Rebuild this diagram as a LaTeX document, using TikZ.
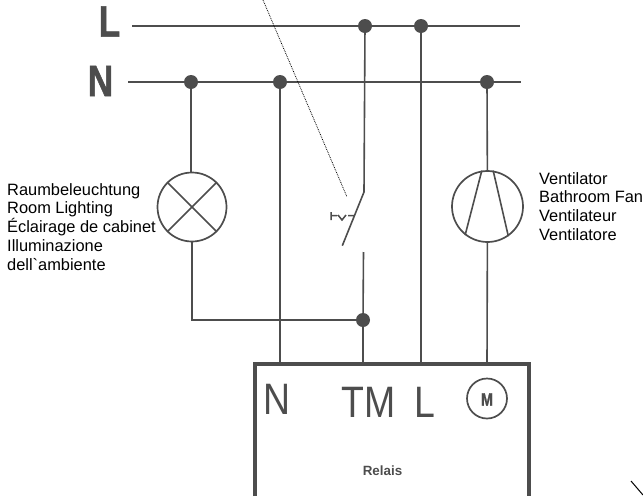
\documentclass[tikz,border=0pt]{standalone}
\usepackage{fontspec}
\setmainfont{Liberation Sans}
\newfontfamily\rawfont{Liberation Sans}
\newfontfamily\heavyfont{Liberation Sans}[BoldFeatures={FakeBold=1.5}]
\usetikzlibrary{positioning}
\definecolor{wiregray}{RGB}{77,77,77}

\tikzset{
    wire/.style={wiregray, line width=1.6pt},
    junction/.style={circle, fill=wiregray, inner sep=0pt, minimum size=14pt},
    load/.style={circle, draw=wiregray, line width=1.7pt, inner sep=0pt},
    caption/.style={align=left, anchor=north west, inner sep=0pt, font=\fontsize{16.4}{18.8}\selectfont, text=black},
    terminal/.style={wiregray, inner sep=0pt, xscale=0.85, transform shape, font=\fontsize{44}{44}\selectfont},
    mainslabel/.style={wiregray, inner sep=0pt, xscale=0.8, transform shape, font=\fontsize{44}{44}\selectfont\heavyfont\bfseries},
}

\begin{document}
\begin{tikzpicture}[x=1pt, y=-1pt]
    \useasboundingbox (0,0) rectangle (643,496);

    % Supply lines
    \node[mainslabel] (lbl) at (109.5,21.5) {L};
    \node[mainslabel] (nbl) at (100.5,81) {N};
    \coordinate (lstart) at (132,26);
    \coordinate (lend) at (520,26);
    \coordinate (nstart) at (128,82);
    \coordinate (nend) at (521,82);

    % Junctions
    \node[junction] (j1) at (365,26) {};
    \node[junction] (j2) at (421,26) {};
    \node[junction] (j3) at (191,82) {};
    \node[junction] (j4) at (280,82) {};
    \node[junction] (j5) at (487,82) {};
    \node[junction] (j6) at (363,320) {};
    \draw[wire] (lstart) -- (lend);
    \draw[wire] (nstart) -- (nend);

    % Loads
    \node[load, minimum size=69pt] (lamp) at (192,207) {};
    \node[load, minimum size=71pt] (fan) at (487.5,206.5) {};
    \draw[wire] (lamp.north west) -- (lamp.south east);
    \draw[wire] (lamp.north east) -- (lamp.south west);
    \draw[wire] (fan.99) -- (fan.232);
    \draw[wire] (fan.81) -- (fan.305);

    % Relay box
    \coordinate (boxnw) at (255,364);
    \coordinate (boxne) at (529,364);
    \coordinate (boxsw) at (255,496);
    \coordinate (boxse) at (529,496);
    \draw[wiregray, line width=3.6pt] (boxsw) -- (boxnw) -- (boxne) -- (boxse);
    \node[terminal] (tn) at (277,399) {N};
    \node[terminal] (ttm) at (368.5,402.5) {TM};
    \node[terminal] (tl) at (425,402.5) {L};
    \node[load, minimum size=40pt] (motor) at (487,398.5) {};
    \node[wiregray, inner sep=0pt, xscale=0.8, transform shape, font=\fontsize{18}{18}\selectfont\heavyfont\bfseries] (mlbl) at (487,399.5) {M};
    \node[wiregray, inner sep=0pt, font=\fontsize{13.4}{13.4}\selectfont\bfseries] (relais) at (382.5,470.5) {Relais};
    \coordinate (nin) at (280,364);
    \coordinate (tmin) at (363,364);
    \coordinate (lin) at (421,364);
    \coordinate (min) at (487,364);

    % Connections
    \draw[wire] (j3) -- (j3 |- lamp.north);
    \draw[wire] (lamp.south) -- (lamp.south |- j6) -- (j6);
    \draw[wire] (j4) -- (nin);
    \draw[wire] (j2) -- (lin);
    \draw[wire] (j5) -- (fan);
    \draw[wire] (fan) -- (min);
    \draw[wire] (j6) -- (tmin);

    % Switch
    \coordinate (swtop) at (364,192);
    \coordinate (swtip) at (342.3,245.7);
    \coordinate (swlow) at (363.5,252);
    \draw[wire] (j1) -- (swtop) -- (swtip);
    \draw[wire] (swlow) -- (j6);
    \draw[wiregray, line width=1.5pt] (331,212) -- (331,220) (331,215.5) -- (337,215.5) (338,215) -- (342,220) -- (346,215) (348,215.5) -- (354,215.5);

    % Pointer
    \coordinate (ptop) at (263,0);
    \coordinate (pend) at (347,197);
    \draw[black, line width=0.8pt, densely dotted] (ptop) -- (pend);
    \coordinate (cornera) at (631,481);
    \coordinate (cornerb) at (643,495);
    \draw[black, line width=1pt] (cornera) -- (cornerb);

    % Captions
    \node[caption] (lampcap) at (7,183) {Raumbeleuchtung\\Room Lighting\\Éclairage de cabinet\\Illuminazione\\dell{\rawfont`}ambiente};
    \node[caption] (fancap) at (539,172) {Ventilator\\Bathroom Fan\\Ventilateur\\Ventilatore};
\end{tikzpicture}
\end{document}
